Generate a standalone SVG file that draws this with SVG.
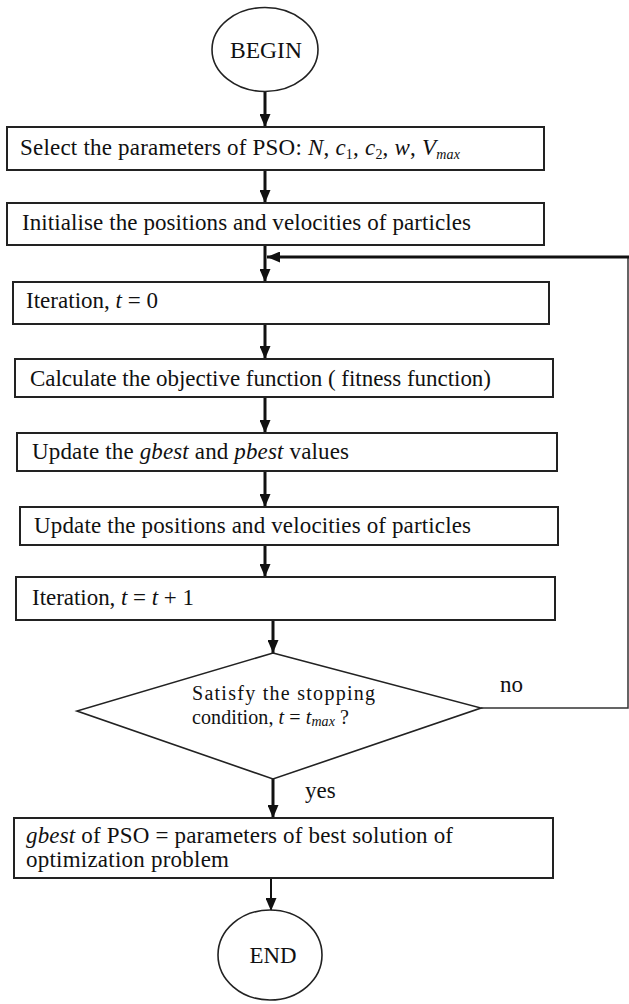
<svg xmlns="http://www.w3.org/2000/svg" width="629" height="1004" viewBox="0 0 629 1004">
<style>
  .box { fill: #fff; stroke: #222; stroke-width: 2; }
  .term { fill: #fff; stroke: #222; stroke-width: 1.6; }
  .dec { fill: #fff; stroke: #222; stroke-width: 1.6; }
  .t { font-family: "Liberation Serif", "Times New Roman", serif; font-size: 23px; fill: #111; }
  .d { font-size: 20px; }
  .i { font-style: italic; }
  .sub { font-size: 14px; }
  .arr { fill: none; stroke: #111; stroke-width: 3; }
  .thin { fill: none; stroke: #333; stroke-width: 1.5; }
</style>
<defs>
  <marker id="ah" viewBox="0 0 13 11" refX="13" refY="5.5" markerWidth="13" markerHeight="11" markerUnits="userSpaceOnUse" orient="auto">
    <path d="M0,0 L13,5.5 L0,11 z" fill="#111"/>
  </marker>
</defs>

<g id="connectors">
  <path class="arr" d="M265,92 L265,127" marker-end="url(#ah)"/>
  <path class="arr" d="M265,170 L265,203" marker-end="url(#ah)"/>
  <path class="arr" d="M265,245 L265,282" marker-end="url(#ah)"/>
  <path class="arr" d="M265,324 L265,359" marker-end="url(#ah)"/>
  <path class="arr" d="M265,397 L265,433" marker-end="url(#ah)"/>
  <path class="arr" d="M265,471 L265,507" marker-end="url(#ah)"/>
  <path class="arr" d="M265,545 L265,577" marker-end="url(#ah)"/>
  <path class="arr" d="M273,620 L273,653" marker-end="url(#ah)"/>
  <path class="arr" d="M273,779 L273,818" marker-end="url(#ah)"/>
  <path class="arr" style="stroke-width:2" d="M271,878 L271,911" marker-end="url(#ah)"/>
  <path class="thin" d="M481,708 L628,708 L628,257"/>
  <path class="arr" d="M629,257 L267,257" marker-end="url(#ah)"/>
  <text class="t" x="500" y="692">no</text>
  <text class="t" x="305" y="798">yes</text>
</g>

<g id="begin">
  <ellipse class="term" cx="265" cy="49.5" rx="53" ry="42"/>
  <text class="t" x="266" y="58" text-anchor="middle" textLength="72" lengthAdjust="spacingAndGlyphs">BEGIN</text>
</g>

<g id="select">
  <rect class="box" x="7" y="127" width="537" height="43"/>
  <text class="t" x="20" y="155" textLength="440" lengthAdjust="spacing">Select the parameters of PSO: <tspan class="i">N</tspan>, <tspan class="i">c</tspan><tspan class="sub" dy="4">1</tspan><tspan dy="-4">, </tspan><tspan class="i">c</tspan><tspan class="sub" dy="4">2</tspan><tspan dy="-4">, </tspan><tspan class="i">w</tspan>, <tspan class="i">V</tspan><tspan class="sub i" dy="4">max</tspan></text>
</g>

<g id="init">
  <rect class="box" x="7" y="203" width="537" height="42"/>
  <text class="t" x="22" y="230" textLength="449" lengthAdjust="spacing">Initialise the positions and velocities of particles</text>
</g>

<g id="iter0">
  <rect class="box" x="13" y="282" width="536" height="42"/>
  <text class="t" x="26" y="308" textLength="132" lengthAdjust="spacing">Iteration, <tspan class="i">t</tspan> = 0</text>
</g>

<g id="calc">
  <rect class="box" x="15" y="359" width="538" height="38"/>
  <text class="t" x="30" y="386" textLength="461" lengthAdjust="spacing">Calculate the objective function ( fitness function)</text>
</g>

<g id="best">
  <rect class="box" x="17" y="433" width="540" height="38"/>
  <text class="t" x="32" y="459" textLength="317" lengthAdjust="spacing">Update the <tspan class="i">gbest</tspan> and <tspan class="i">pbest</tspan> values</text>
</g>

<g id="update">
  <rect class="box" x="20" y="507" width="538" height="38"/>
  <text class="t" x="34" y="533" textLength="437" lengthAdjust="spacing">Update the positions and velocities of particles</text>
</g>

<g id="iter1">
  <rect class="box" x="16" y="577" width="539" height="43"/>
  <text class="t" x="32" y="605" textLength="162" lengthAdjust="spacing">Iteration, <tspan class="i">t</tspan> = <tspan class="i">t</tspan> + 1</text>
</g>

<g id="decision">
  <polygon class="dec" points="273,653 481,708 273,779 77,711"/>
  <text class="t d" x="192" y="700" textLength="183" lengthAdjust="spacing">Satisfy the stopping</text>
  <text class="t d" x="192" y="724" textLength="157" lengthAdjust="spacing">condition, <tspan class="i">t</tspan> = <tspan class="i">t</tspan><tspan class="sub i" dy="2">max</tspan><tspan dy="-2"> ?</tspan></text>
</g>

<g id="result">
  <rect class="box" x="14" y="818" width="539" height="60"/>
  <text class="t" x="26" y="843" textLength="427" lengthAdjust="spacing"><tspan class="i">gbest</tspan> of PSO = parameters of best solution of</text>
  <text class="t" x="26" y="867" textLength="203" lengthAdjust="spacing">optimization problem</text>
</g>

<g id="end">
  <ellipse class="term" cx="270" cy="955" rx="52" ry="45"/>
  <text class="t" x="273" y="963" text-anchor="middle" textLength="47" lengthAdjust="spacingAndGlyphs">END</text>
</g>
</svg>
